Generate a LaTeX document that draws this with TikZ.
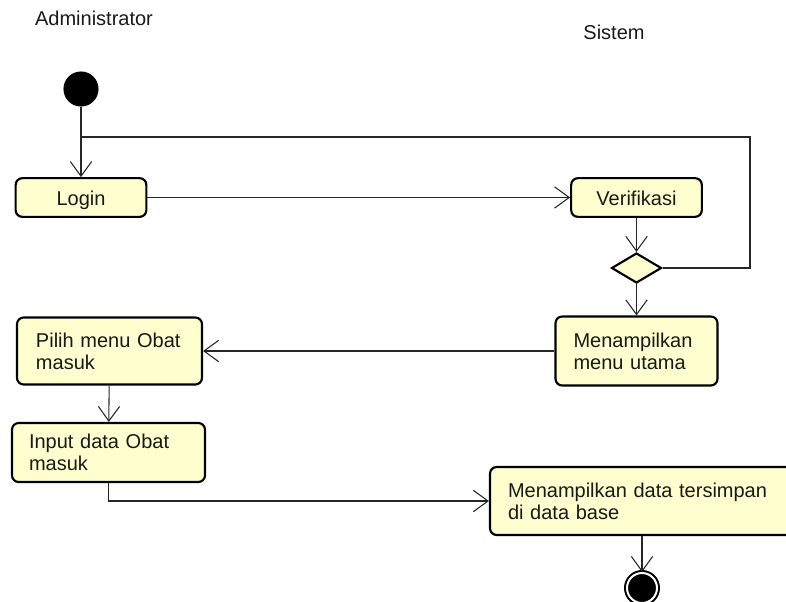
\documentclass[tikz,border=0pt]{standalone}
\usepackage{fontspec}
\setmainfont{Liberation Sans}
\usetikzlibrary{positioning, calc}
\usetikzlibrary{arrows.meta}
\usetikzlibrary{shapes,shapes.geometric}
\definecolor{actfill}{HTML}{FEFECE}

\begin{document}
\begin{tikzpicture}[x=0.75pt,y=-0.75pt,->,>={Straight Barb[length=11pt,width=16pt]},draw=black!85,line width=0.8pt]
	\def \colleft{81}
	\def \colright{636.5}
	\tikzstyle{act}=[rectangle,rounded corners=5pt,draw=black,line width=1.6pt,fill=actfill,text=black!90,font=\fontsize{15pt}{16.3pt}\selectfont,inner ysep=0pt]
	\tikzstyle{s-act}=[act,text height=12.5pt,text depth=0pt,minimum width=98pt,minimum height=29pt]
	\tikzstyle{m-act}=[act,align=left]
	\tikzstyle{lane}=[font=\fontsize{15pt}{18pt}\selectfont,text=black!90]
	\useasboundingbox (0,0) rectangle (786,601);
	\clip (0,0) rectangle (786,601);
	% labels
	\node[lane] (admin-label) at (94,18) {Administrator};
	\node[lane] (sistem-label) at (614,32) {Sistem};

	% administrator
	\node[circle,fill=black,draw=black,inner sep=0pt,minimum size=25.5pt] (start) at (\colleft,89) {};
	\node[s-act] (login) at (\colleft,197.5) {Login};
	\node[m-act,text width=110.25pt,inner xsep=14.25pt,minimum height=50.25pt] (pilih) at (109.5,351) {Pilih menu Obat\\masuk};
	\node[m-act,text width=119.25pt,inner xsep=12.75pt,minimum height=44.25pt] (input) at (108.5,452.5) {Input data Obat\\masuk};

	% sistem
	\node[s-act] (verif) at (\colright,197.5) {Verifikasi};
	\node[diamond,draw=black,line width=1.6pt,fill=actfill,inner sep=0pt,minimum width=37.5pt,minimum height=22.5pt] (dec) at (\colright,268) {};
	\node[m-act,text width=94.5pt,inner xsep=13.5pt,minimum height=51.75pt] (menu) at (\colright,351) {Menampilkan\\menu utama};
	\node[m-act,text width=205.5pt,inner xsep=13.5pt,minimum height=51pt] (data) at (645,501) {Menampilkan data tersimpan\\di data base};
	\node[circle,fill=black,draw=black,line width=1.5pt,double=white,double distance=1.5pt,inner sep=0pt,minimum size=22.5pt] (final) at (642,588) {};

	\coordinate (looptop) at (750,137);
	\coordinate (loopjoin) at (\colleft,137);

	\path (start)	edge	node	{}	(login)
		(login)	edge	node	{}	(verif)
		(verif)	edge	node	{}	(dec)
		(dec)	edge	node	{}	(menu)
		(menu)	edge	node	{}	(pilih)
		(pilih)	edge	node	{}	(input);
	\draw[-] (dec.east) -| (looptop) -- (loopjoin);
	\draw (input.south) |- (data.west);
	\draw (final |- data.south) -- (final);
\end{tikzpicture}
\end{document}
